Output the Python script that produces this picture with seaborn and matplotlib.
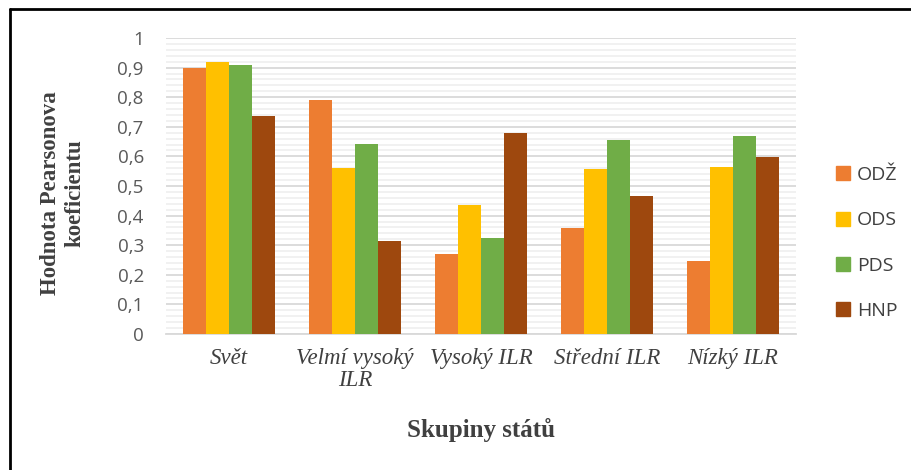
import textwrap

import matplotlib
matplotlib.use("Agg")
import matplotlib.pyplot as plt
import pandas as pd
import seaborn as sns
from matplotlib.lines import Line2D
from matplotlib.ticker import FuncFormatter, MultipleLocator

# data
groups = ["Svět", "Velmí vysoký ILR", "Vysoký ILR", "Střední ILR", "Nízký ILR"]
series = ["ODŽ", "ODS", "PDS", "HNP"]
odz = [0.90, 0.79, 0.27, 0.357, 0.245]
ods = [0.918, 0.56, 0.435, 0.557, 0.565]
pds = [0.908, 0.642, 0.326, 0.656, 0.67]
hnp = [0.738, 0.315, 0.68, 0.465, 0.598]
colors = ["#ED7D31", "#FFC000", "#70AD47", "#9E480E"]

df = pd.DataFrame({"ODŽ": odz, "ODS": ods, "PDS": pds, "HNP": hnp}, index=groups)
long_df = df.reset_index(names="skupina").melt(id_vars="skupina", var_name="ukazatel", value_name="hodnota")

sns.set_style("white")
fig = plt.figure(figsize=(9.12, 4.70), dpi=100)
ax = fig.add_axes([166 / 912, 136 / 470, 630 / 912, 296 / 470])

sns.barplot(data=long_df, x="skupina", y="hodnota", hue="ukazatel", hue_order=series,
            palette=colors, width=0.73, gap=0, linewidth=0, saturation=1,
            errorbar=None, ax=ax, zorder=3)

ax.set_xlim(-0.5, len(groups) - 0.5)
ax.set_ylim(0, 1)
ax.yaxis.set_major_locator(MultipleLocator(0.1))
ax.yaxis.set_minor_locator(MultipleLocator(0.02))
ax.yaxis.set_major_formatter(FuncFormatter(lambda v, _: f"{v:.1f}".replace(".", ",").replace(",0", "") if v else "0"))
ax.grid(axis="y", which="major", color="#d9d9d9", linewidth=1.3, zorder=0)
ax.grid(axis="y", which="minor", color="#f0f0f0", linewidth=1.3, zorder=0)
ax.set_axisbelow(True)
ax.tick_params(axis="both", which="both", length=0)
ax.tick_params(axis="y", pad=16)
ax.tick_params(axis="x", pad=10)
for s in ["top", "right", "left"]:
    ax.spines[s].set_visible(False)
ax.spines["bottom"].set_color("#d9d9d9")
ax.spines["bottom"].set_linewidth(1.3)

for lab in ax.get_yticklabels():
    lab.set_fontfamily("Open Sans")
    lab.set_fontsize(13.5)
    lab.set_color("#595959")

ax.set_xticks(range(len(groups)))
ax.set_xticklabels([textwrap.fill(g, 12) for g in groups], fontfamily="Liberation Serif",
                   fontstyle="italic", fontsize=16.5, color="#404040", linespacing=1.05)

ax.set_xlabel("Skupiny států", fontfamily="Liberation Serif", fontweight="bold",
              fontsize=18, color="#404040")
ax.xaxis.set_label_coords(0.5, -(430 - 334) / 296)
ax.xaxis.label.set_va("center")

ax.set_ylabel("Hodnota Pearsonova\nkoeficientu", fontfamily="Liberation Serif",
              fontweight="bold", fontsize=16.5, color="#404040", linespacing=1.2)
ax.yaxis.set_label_coords(-(166 - 63) / 630, (334 - 193) / 296)
ax.yaxis.label.set_va("center")

ax.legend_.remove()
handles = [plt.Rectangle((0, 0), 1, 1, color=c) for c in colors]
leg = fig.legend(handles, series, loc="center left", bbox_to_anchor=(836 / 912, 1 - 243 / 470),
                 frameon=False, borderpad=0, borderaxespad=0, handlelength=0.72, handleheight=0.72,
                 handletextpad=0.35, labelspacing=1.4, prop={"family": "Open Sans", "size": 14})
for t in leg.get_texts():
    t.set_color("#404040")

# frame around the chart (top and left edges only visible in the reference)
fig.add_artist(Line2D([10.5 / 912, 10.5 / 912], [0, 1 - 9 / 470], transform=fig.transFigure, color="black", lw=2))
fig.add_artist(Line2D([10.5 / 912, 1], [1 - 9 / 470, 1 - 9 / 470], transform=fig.transFigure, color="black", lw=2))

fig.savefig("out.png", dpi=100, facecolor="white")
